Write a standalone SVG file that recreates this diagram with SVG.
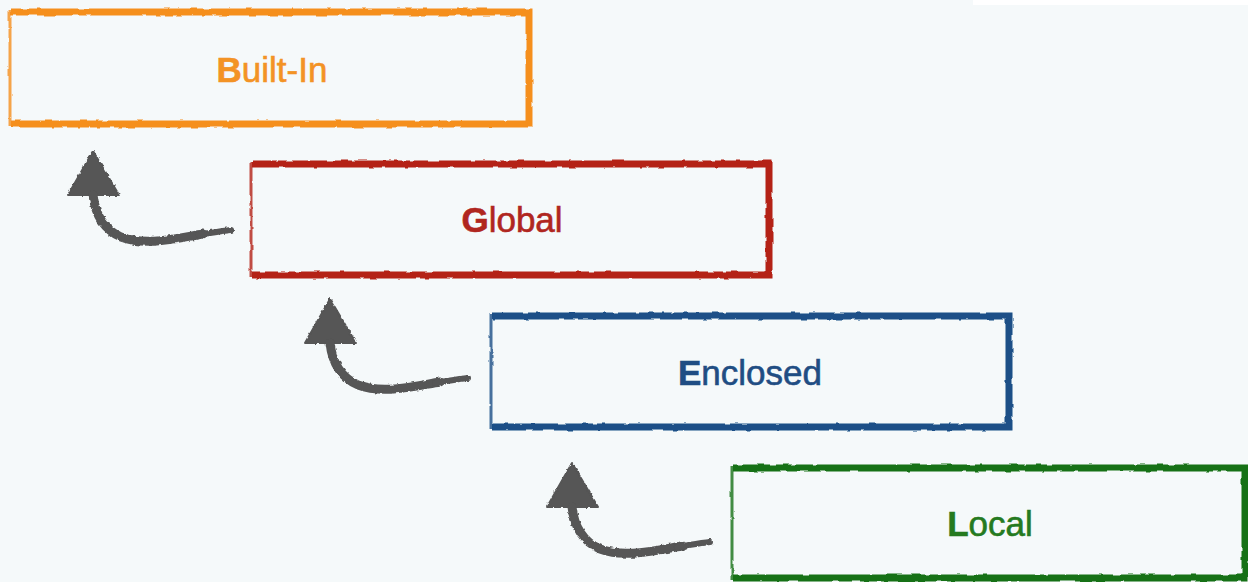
<svg xmlns="http://www.w3.org/2000/svg" width="1248" height="582" viewBox="0 0 1248 582">
  <defs>
    <filter id="rough" filterUnits="userSpaceOnUse" x="0" y="0" width="1248" height="582">
      <feTurbulence type="fractalNoise" baseFrequency="0.09" numOctaves="2" seed="3" result="n"/>
      <feDisplacementMap in="SourceGraphic" in2="n" scale="3" xChannelSelector="R" yChannelSelector="G"/>
    </filter>
    <filter id="chalk" filterUnits="userSpaceOnUse" x="0" y="0" width="1248" height="582">
      <feTurbulence type="fractalNoise" baseFrequency="0.25" numOctaves="2" seed="7" result="n"/>
      <feDisplacementMap in="SourceGraphic" in2="n" scale="3" xChannelSelector="R" yChannelSelector="G"/>
    </filter>
    <g id="arrow">
      <path d="M0,0 L-25,44 L26,44 Z" class="head"/>
      <path d="M0,44 C2,62 10,78 28,86 C52,95 80,88 110,83" class="shaft"/>
      <path d="M105,84 C118,82 128,80 138,79" class="tail"/>
    </g>
  </defs>
  <style>
    .edge { fill: none; stroke-width: 7; stroke-linejoin: miter; filter: url(#rough); }
    .side { fill: none; stroke-width: 3; opacity: 0.8; filter: url(#rough); }
    .lbl { font-family: "Liberation Sans", Arial, Helvetica, sans-serif; font-size: 35px; text-anchor: middle; stroke-width: 0.6; }
    .lbl tspan.first { font-weight: bold; }
    .head { fill: #4d4d4d; stroke: #4d4d4d; stroke-width: 2; stroke-linejoin: round; }
    .shaft { fill: none; stroke: #4d4d4d; stroke-width: 9; stroke-linecap: round; }
    .tail { fill: none; stroke: #4d4d4d; stroke-width: 6; stroke-linecap: round; }
    #connectors { filter: url(#chalk); opacity: 0.95; }
  </style>

  <rect x="0" y="0" width="1248" height="582" fill="#f5f9fa"/>
  <rect x="973" y="0" width="275" height="5" fill="#ffffff"/>

  <g id="builtin">
    <path class="edge" d="M11,12 H529 V124 H11" stroke="#f58f1f"/>
    <path class="side" d="M10,10 V126" stroke="#f58f1f"/>
    <text class="lbl" x="272" y="82" fill="#f39325" stroke="#f39325"><tspan class="first">B</tspan>uilt-In</text>
  </g>

  <g id="global">
    <path class="edge" d="M252,164 H769 V275 H252" stroke="#b42019"/>
    <path class="side" d="M251,162 V277" stroke="#b42019"/>
    <text class="lbl" x="512" y="232" fill="#b0261f" stroke="#b0261f"><tspan class="first">G</tspan>lobal</text>
  </g>

  <g id="enclosed">
    <path class="edge" d="M492,316 H1009 V427 H492" stroke="#1c4f87"/>
    <path class="side" d="M491,314 V429" stroke="#1c4f87"/>
    <text class="lbl" x="750" y="385" fill="#1f4d83" stroke="#1f4d83"><tspan class="first">E</tspan>nclosed</text>
  </g>

  <g id="local">
    <path class="edge" d="M733,468 H1245 V578 H733" stroke="#197117"/>
    <path class="side" d="M732,466 V580" stroke="#197117"/>
    <text class="lbl" x="990" y="536" fill="#257a1f" stroke="#257a1f"><tspan class="first">L</tspan>ocal</text>
  </g>

  <g id="connectors">
    <use href="#arrow" transform="translate(93,151)"/>
    <use href="#arrow" transform="translate(330,299)"/>
    <use href="#arrow" transform="translate(572,463)"/>
  </g>
</svg>
